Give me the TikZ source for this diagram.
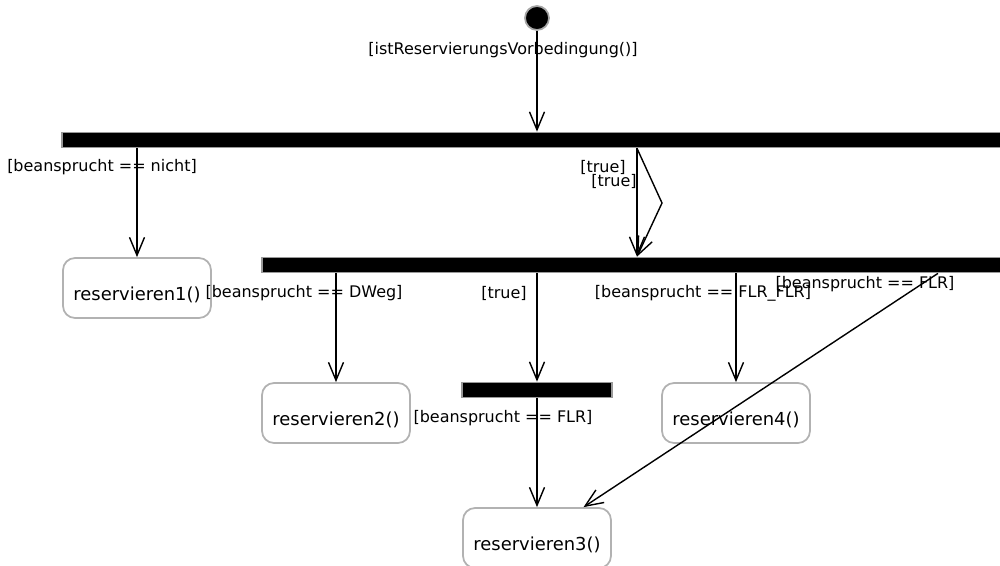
\documentclass[tikz,border=0pt]{standalone}
\usepackage{fontspec}
\setmainfont{DejaVu Sans}
\usetikzlibrary{arrows.meta,positioning}

\begin{document}
\begin{tikzpicture}
[x=0.02cm, y=-0.02cm,
% STYLES
% initial state of the activity
start/.style={circle, fill=black, draw=black!35, line width=1pt, minimum size=0.48cm, inner sep=0pt},
% fork bars
bar/.style={rectangle, fill=black, draw=black!40, line width=1pt, minimum height=0.3cm, inner sep=0pt},
% the actions
activity/.style={rectangle, rounded corners=0.24cm, draw=black!30, line width=1pt, minimum width=2.96cm, minimum height=1.2cm, text height=16pt, text depth=2pt, font=\fontsize{10.2}{12}\selectfont},
% guard conditions written beside the transitions
guard/.style={inner sep=0pt, font=\fontsize{9.1}{11}\selectfont},
flow/.style={-{Straight Barb[length=0.36cm,width=0.3cm]}, line width=0.8pt}]

\useasboundingbox (0,0) rectangle (1000,565);

% Draw states and bars
\node [start] (init) at (537,18) {};
\node [bar, minimum width=19cm] (fork1) at (537,140) {};
\node [bar, minimum width=15cm] (fork2) at (637,265) {};
\node [bar, minimum width=3cm] (fork3) at (537,390) {};
\node [activity] (res1) at (137,288) {reservieren1()};
\node [activity] (res2) at (336,413) {reservieren2()};
\node [activity] (res4) at (736,413) {reservieren4()};
\node [activity] (res3) at (537,538) {reservieren3()};
\coordinate (bend) at (662,203);

%%%%%%%%%%%%%%%
% Guards

\node [guard] (g-vor) at (503,50) {[istReservierungsVorbedingung()]};
\node [guard] (g-nicht) at (102,167) {[beansprucht == nicht]};
\node [guard, anchor=east] (g-true1) at (626,167) {[true]};
\node [guard, anchor=east] (g-true2) at (637,181) {[true]};
\node [guard] (g-dweg) at (304,293) {[beansprucht == DWeg]};
\node [guard] (g-true3) at (504,293) {[true]};
\node [guard] (g-flrflr) at (703,293) {[beansprucht == FLR\_FLR]};
\node [guard] (g-flr1) at (865,284) {[beansprucht == FLR]};
\node [guard] (g-flr2) at (503,418) {[beansprucht == FLR]};

%%%%%%%%%%%%%%%

% Draw the transitions
\path[flow]
(init) edge (init |- fork1.north)
(fork1.south -| res1) edge (res1)
(fork1.south -| fork2) edge (fork2.north)
(fork2.south -| res2) edge (res2)
(fork2.south -| fork3) edge (fork3.north)
(fork2.south -| res4) edge (res4)
(fork3) edge (res3)
([xshift=6.02cm]fork2.south) edge ([xshift=0.93cm]res3.north);
\draw[flow] (fork1.south -| fork2) -- (bend) -- (fork2.north);

\end{tikzpicture}
\end{document}
